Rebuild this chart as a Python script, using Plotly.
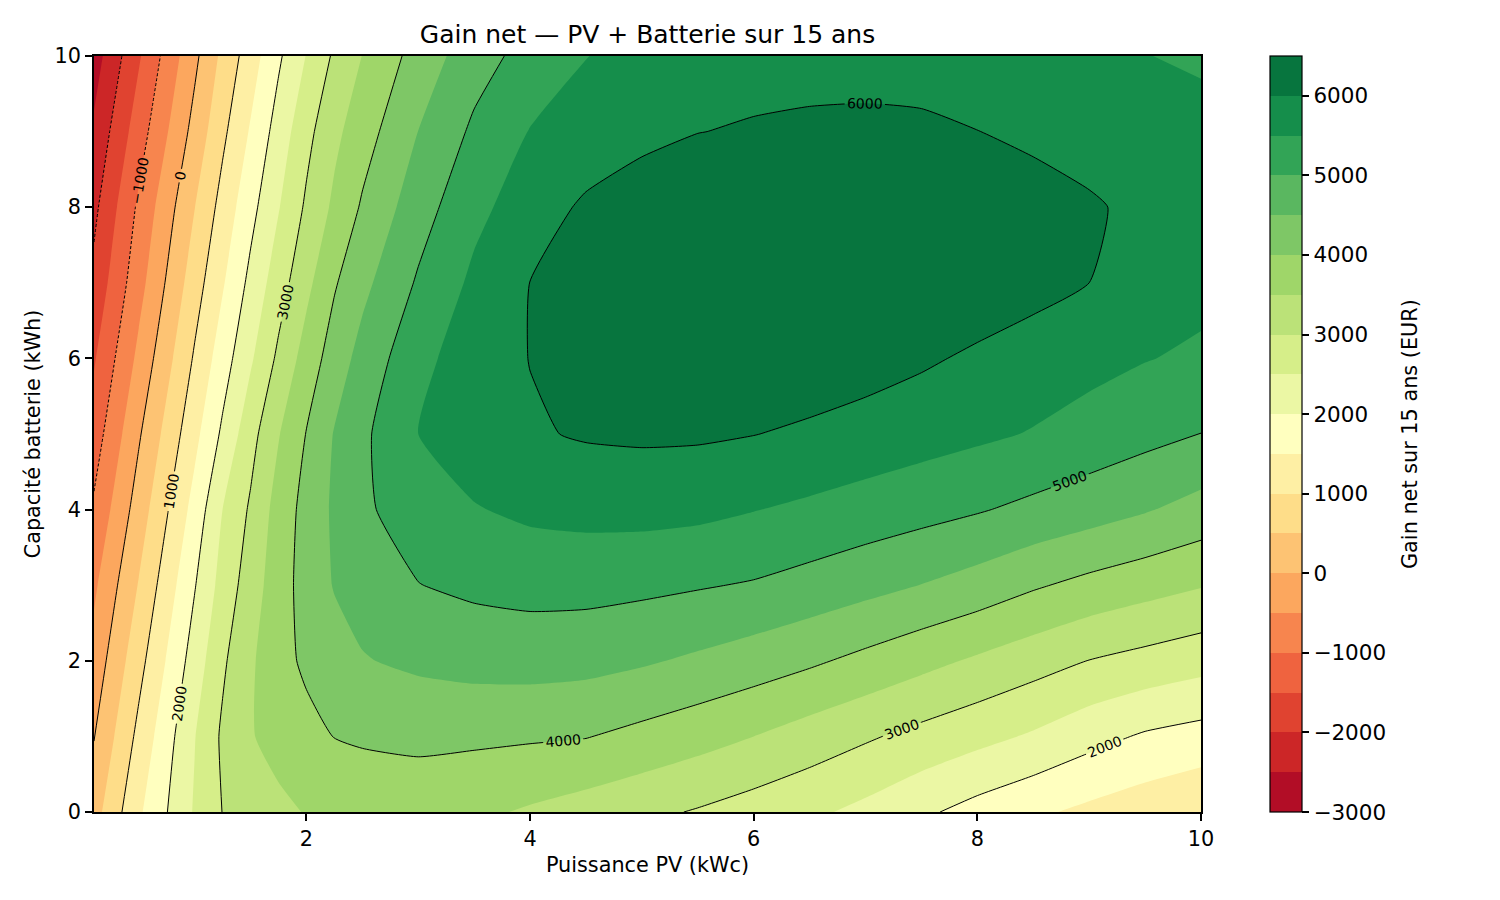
import plotly.graph_objects as go

# ---------------- data ----------------
pv_kwc = [0.1, 0.5, 1.0, 1.25, 1.5, 1.75, 2.0, 2.25, 2.5, 3.0, 3.5, 4.0,
          4.5, 5.0, 5.5, 6.0, 6.5, 7.0, 7.5, 8.0, 8.5, 9.0, 9.5, 10.0]
battery_kwh = [0, 1, 2, 3, 4, 5, 6, 7, 8, 9, 10]

gain_b0 = [300, 1420, 2550, 3010, 3190, 3370, 3530, 3620, 3680, 3730, 3600, 3440,
           3280, 3120, 2960, 2780, 2600, 2370, 2090, 1820, 1590, 1390, 1220, 1050]
gain_b1 = [-20, 1130, 2480, 3080, 3460, 3700, 3870, 4010, 4060, 4100, 4090, 4060,
           4020, 3860, 3690, 3500, 3280, 3065, 2850, 2650, 2440, 2170, 1940, 1810]
gain_b2 = [-310, 830, 2230, 2920, 3420, 3850, 4080, 4290, 4470, 4600, 4680, 4700,
           4660, 4560, 4420, 4260, 4080, 3870, 3650, 3430, 3210, 2990, 2840, 2690]
gain_b3 = [-590, 530, 1970, 2690, 3250, 3780, 4190, 4530, 4680, 4990, 5100, 5160,
           5160, 5110, 5040, 4960, 4820, 4660, 4490, 4300, 4060, 3860, 3690, 3530]
gain_b4 = [-920, 230, 1680, 2500, 3070, 3700, 4170, 4580, 4930, 5210, 5470, 5600,
           5650, 5660, 5620, 5515, 5410, 5290, 5170, 5040, 4880, 4720, 4540, 4320]
gain_b5 = [-1250, -60, 1360, 2090, 2820, 3470, 4020, 4530, 4900, 5500, 5760, 5950,
           6045, 6075, 6065, 6010, 5920, 5810, 5700, 5590, 5470, 5310, 5150, 4995]
gain_b6 = [-1550, -380, 1060, 1760, 2430, 3100, 3710, 4240, 4670, 5360, 5760, 6010,
           6200, 6300, 6340, 6340, 6290, 6200, 6070, 5920, 5780, 5650, 5520, 5420]
gain_b7 = [-1860, -680, 770, 1450, 2130, 2770, 3370, 3950, 4370, 5060, 5600, 6005,
           6200, 6330, 6410, 6450, 6470, 6460, 6400, 6300, 6160, 6000, 5840, 5640]
gain_b8 = [-2120, -910, 490, 1180, 1840, 2470, 3080, 3600, 4060, 4780, 5370, 5750,
           6080, 6300, 6420, 6440, 6450, 6440, 6400, 6330, 6200, 6060, 5880, 5700]
gain_b9 = [-2410, -1240, 170, 890, 1550, 2210, 2850, 3380, 3780, 4505, 5090, 5520,
           5690, 5850, 5990, 6050, 6080, 6090, 6070, 6005, 5900, 5800, 5720, 5640]
gain_b10 = [-2730, -1560, -115, 620, 1260, 1920, 2520, 3080, 3510, 4200, 4790, 5180,
            5490, 5650, 5740, 5800, 5840, 5850, 5840, 5810, 5750, 5660, 5510, 5440]

gain = [gain_b0, gain_b1, gain_b2, gain_b3, gain_b4, gain_b5,
        gain_b6, gain_b7, gain_b8, gain_b9, gain_b10]

level_min, level_max, level_step = -3000, 6500, 500
cbar_ticks = [-3000, -2000, -1000, 0, 1000, 2000, 3000, 4000, 5000, 6000]
cbar_ticktext = [("\u2212" + str(-v)) if v < 0 else str(v) for v in cbar_ticks]

# ---------------- colours: matplotlib RdYlGn, 19 discrete bands ----------------
anchors = ['#a50026', '#d73027', '#f46d43', '#fdae61', '#fee08b', '#ffffbf',
           '#d9ef8b', '#a6d96a', '#66bd63', '#1a9850', '#006837']


def hex2rgb(h):
    return tuple(int(h[i:i + 2], 16) for i in (1, 3, 5))


def rdylgn(t):
    pos = t * 10
    i = min(int(pos), 9)
    f = pos - i
    a, b = hex2rgb(anchors[i]), hex2rgb(anchors[i + 1])
    c = [round(a[j] + (b[j] - a[j]) * f) for j in range(3)]
    return 'rgb(%d,%d,%d)' % tuple(c)


nb = int((level_max - level_min) / level_step)  # 19 bands
band_colors = [rdylgn((k + 0.5) / nb) for k in range(nb)]
step_scale = []
for k, c in enumerate(band_colors):
    step_scale.append([k / nb, c])
    step_scale.append([(k + 1) / nb, c])

FONT = 'DejaVu Sans'
SMOOTH = 0.5
fig = go.Figure()

# filled contours
fig.add_trace(go.Contour(
    x=pv_kwc, y=battery_kwh, z=gain,
    autocontour=False,
    contours=dict(start=level_min, end=level_max, size=level_step,
                  coloring='fill', showlines=False),
    colorscale=step_scale, showscale=False,
    line=dict(width=0, smoothing=SMOOTH),
    hoverinfo='skip',
))

# negative contour lines (dashed)
fig.add_trace(go.Contour(
    x=pv_kwc, y=battery_kwh, z=gain,
    autocontour=False,
    contours=dict(start=-2000, end=-1000, size=1000, coloring='none',
                  showlabels=True,
                  labelfont=dict(size=14, color='black', family=FONT)),
    line=dict(color='black', width=1, dash='3px,2px', smoothing=SMOOTH),
    showscale=False, hoverinfo='skip',
))

# positive contour lines
fig.add_trace(go.Contour(
    x=pv_kwc, y=battery_kwh, z=gain,
    autocontour=False,
    contours=dict(start=0, end=6000, size=1000, coloring='none',
                  showlabels=True,
                  labelfont=dict(size=14, color='black', family=FONT)),
    line=dict(color='black', width=1, smoothing=SMOOTH),
    showscale=False, hoverinfo='skip',
))

# colorbar carrier
plot_l, plot_r, plot_t, plot_b = 94, 1201, 56, 812
plot_w = plot_r - plot_l
fig.add_trace(go.Scatter(
    x=[5], y=[5], mode='markers',
    marker=dict(size=1, opacity=0, color=[0], colorscale=step_scale,
                cmin=level_min, cmax=level_max, showscale=True,
                colorbar=dict(
                    x=(1270 - plot_l) / plot_w, xanchor='left',
                    y=0.5, yanchor='middle',
                    len=plot_b - plot_t, lenmode='pixels',
                    thickness=32, thicknessmode='pixels',
                    xpad=0, ypad=0,
                    outlinewidth=1.2, outlinecolor='black',
                    tickmode='array', tickvals=cbar_ticks, ticktext=cbar_ticktext,
                    ticks='outside', ticklen=7, tickwidth=1.6, tickcolor='black',
                    tickfont=dict(size=21.5, family=FONT, color='black'),
                )),
    hoverinfo='skip', showlegend=False,
))

axis_common = dict(
    showgrid=False, zeroline=False, showline=True, mirror=True,
    linecolor='black', linewidth=1.6,
    ticks='outside', ticklen=7, tickwidth=1.6, tickcolor='black',
    tickfont=dict(size=20.8, family=FONT, color='black'),
)

fig.update_layout(
    width=1500, height=900,
    margin=dict(l=plot_l, r=1500 - plot_r, t=plot_t, b=900 - plot_b),
    paper_bgcolor='white', plot_bgcolor='white',
    font=dict(family=FONT, color='black'),
    title=dict(text='Gain net \u2014 PV + Batterie sur 15 ans',
               x=(plot_l + plot_r) / 2 / 1500, xanchor='center', xref='container',
               y=1 - 34 / 900, yanchor='middle', yref='container',
               font=dict(size=25, family=FONT, color='black')),
    xaxis=dict(range=[0.1, 10], tickvals=[2, 4, 6, 8, 10],
               title=dict(text='Puissance PV (kWc)', standoff=8,
                          font=dict(size=20.8, family=FONT, color='black')),
               **axis_common),
    yaxis=dict(range=[0, 10], tickvals=[0, 2, 4, 6, 8, 10],
               title=dict(text='Capacité batterie (kWh)', standoff=8,
                          font=dict(size=20.8, family=FONT, color='black')),
               **axis_common),
    annotations=[dict(
        text='Gain net sur 15 ans (EUR)', textangle=-90,
        xref='paper', yref='paper', x=(1410 - plot_l) / plot_w, y=0.5,
        xanchor='center', yanchor='middle', showarrow=False,
        font=dict(size=20.8, family=FONT, color='black'),
    )],
    showlegend=False,
)

fig.write_html('out.html')
